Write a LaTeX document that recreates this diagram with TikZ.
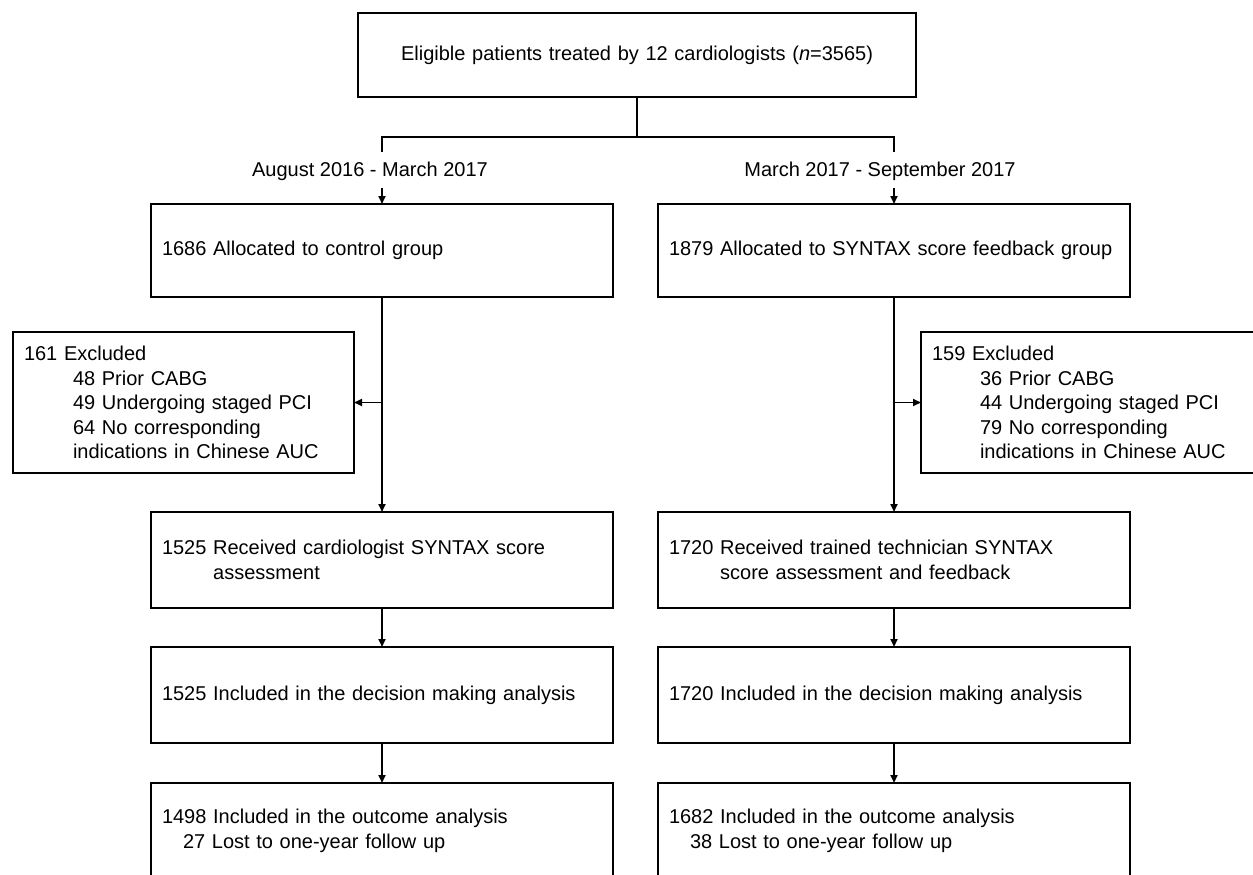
\documentclass[tikz,border=0pt]{standalone}
\usepackage{fontspec}
\setmainfont{Liberation Sans}
\usetikzlibrary{arrows.meta}
\begin{document}
\begin{tikzpicture}[x=1pt,y=-1pt,
  txt/.style={font=\fontsize{20}{24.5}\selectfont},
  box/.style={txt,draw,line width=1.9pt,outer sep=0pt,inner xsep=11pt,inner ysep=0pt,align=left},
  lbl/.style={txt,inner sep=0pt},
  conn/.style={line width=1.9pt},
  arr/.style={conn,-{Triangle[length=8pt,width=7pt]}}]
\useasboundingbox (0,0) rectangle (1253,875);
\clip (0,0) rectangle (1253,875);
\fill[white] (0,0) rectangle (1253,875);
% boxes
\node[box,align=center,text width=536pt,minimum height=84pt] (top) at (637,55)
  {Eligible patients treated by 12 cardiologists (\textit{n}=3565)};
\node[box,text width=440pt,minimum height=93pt] (allocL) at (382,250.5)
  {1686 Allocated to control group};
\node[box,text width=450pt,minimum height=93pt] (allocR) at (894,250.5)
  {1879 Allocated to SYNTAX score feedback group};
\node[box,text width=319pt,minimum height=141pt] (exclL) at (183.5,402.5)
  {161 Excluded\\
   \hspace*{49pt}48 Prior CABG\\
   \hspace*{49pt}49 Undergoing staged PCI\\
   \hspace*{49pt}64 No corresponding\\
   \hspace*{49pt}indications in Chinese AUC};
\node[box,text width=337pt,minimum height=141pt] (exclR) at (1100.5,402.5)
  {159 Excluded\\
   \hspace*{48pt}36 Prior CABG\\
   \hspace*{48pt}44 Undergoing staged PCI\\
   \hspace*{48pt}79 No corresponding\\
   \hspace*{48pt}indications in Chinese AUC};
\node[box,text width=440pt,minimum height=96pt] (recL) at (382,560)
  {1525 Received cardiologist SYNTAX score\\
   \hphantom{1525 }assessment};
\node[box,text width=450pt,minimum height=96pt] (recR) at (894,560)
  {1720 Received trained technician SYNTAX\\
   \hphantom{1720 }score assessment and feedback};
\node[box,text width=440pt,minimum height=96pt] (decL) at (382,695)
  {1525 Included in the decision making analysis};
\node[box,text width=450pt,minimum height=96pt] (decR) at (894,695)
  {1720 Included in the decision making analysis};
\node[box,text width=440pt,minimum height=96pt] (outL) at (382,831)
  {1498 Included in the outcome analysis\\
   \hspace*{21pt}27 Lost to one-year follow up};
\node[box,text width=450pt,minimum height=96pt] (outR) at (894,831)
  {1682 Included in the outcome analysis\\
   \hspace*{21pt}38 Lost to one-year follow up};
% period labels
\node[lbl] (perL) at (370,171) {August 2016 - March 2017};
\node[lbl] (perR) at (880,171) {March 2017 - September 2017};
% branch coordinates
\coordinate (bm) at (637,137);
\coordinate (bl) at (382,137);
\coordinate (brr) at (894,137);
\coordinate (dl) at (382,152);
\coordinate (dr) at (894,152);
\coordinate (al) at (382,188);
\coordinate (ar) at (894,188);
% connectors
\draw[conn] (top.south) -- (bm);
\draw[conn] (dl) -- (bl) -- (brr) -- (dr);
\draw[arr] (al) -- (allocL.north);
\draw[arr] (ar) -- (allocR.north);
\draw[arr] (allocL.south) -- (recL.north);
\draw[arr] (allocR.south) -- (recR.north);
\draw[arr] (allocL.south |- exclL.east) -- (exclL.east);
\draw[arr] (allocR.south |- exclR.west) -- (exclR.west);
\draw[arr] (recL.south) -- (decL.north);
\draw[arr] (recR.south) -- (decR.north);
\draw[arr] (decL.south) -- (outL.north);
\draw[arr] (decR.south) -- (outR.north);
\end{tikzpicture}
\end{document}
